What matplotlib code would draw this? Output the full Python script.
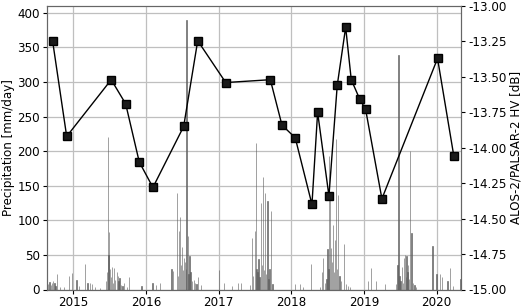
import matplotlib
matplotlib.use("Agg")
import matplotlib.pyplot as plt
import matplotlib.dates as mdates
from datetime import datetime, timedelta

# --- data (dates as decimal years) ---
sar_dates = [2014.716, 2014.909, 2015.522, 2015.721, 2015.908, 2016.096, 2016.518,
             2016.711, 2017.096, 2017.710, 2017.870, 2018.053, 2018.283, 2018.361,
             2018.517, 2018.631, 2018.747, 2018.824, 2018.939, 2019.022, 2019.246,
             2020.012, 2020.236]
sar_hv_db = [-13.25, -13.92, -13.52, -13.69, -14.10, -14.28, -13.85,
             -13.245, -13.54, -13.52, -13.84, -13.93, -14.40, -13.75,
             -14.34, -13.56, -13.15, -13.52, -13.655, -13.73, -14.36,
             -13.37, -14.06]

precip_dates = [
    2014.652, 2014.672, 2014.693, 2014.707, 2014.721, 2014.741, 2014.755, 2014.771,
    2014.817, 2014.872, 2014.941, 2014.986, 2015.046, 2015.078, 2015.161, 2015.195,
    2015.230, 2015.257, 2015.298, 2015.367,
    2015.450, 2015.463, 2015.473, 2015.484, 2015.491, 2015.505, 2015.518, 2015.532,
    2015.546, 2015.564, 2015.577, 2015.597, 2015.611, 2015.622, 2015.635, 2015.656,
    2015.677, 2015.697, 2015.738, 2015.770, 2015.940, 2016.092, 2016.137, 2016.192,
    2016.353, 2016.375,
    2016.422, 2016.440, 2016.454, 2016.467, 2016.481, 2016.499, 2016.509, 2016.522,
    2016.536, 2016.547, 2016.559, 2016.573, 2016.584, 2016.598, 2016.612, 2016.632,
    2016.656, 2016.674, 2016.694, 2016.715, 2016.756,
    2017.008, 2017.073, 2017.183, 2017.261, 2017.307,
    2017.430, 2017.458, 2017.472, 2017.495, 2017.509, 2017.520, 2017.534, 2017.548,
    2017.562, 2017.578, 2017.592, 2017.606, 2017.619, 2017.637, 2017.651, 2017.669,
    2017.685, 2017.698, 2017.723, 2017.740,
    2018.049, 2018.118, 2018.159, 2018.269, 2018.393, 2018.421, 2018.439, 2018.462,
    2018.483, 2018.499, 2018.510, 2018.521, 2018.535, 2018.544, 2018.558, 2018.576,
    2018.590, 2018.600, 2018.613, 2018.627, 2018.645, 2018.661, 2018.682, 2018.728,
    2018.751, 2018.778, 2018.806,
    2019.057, 2019.095, 2019.163, 2019.292,
    2019.439, 2019.459, 2019.476, 2019.487, 2019.501, 2019.521, 2019.535, 2019.549,
    2019.563, 2019.576, 2019.586, 2019.597, 2019.608, 2019.617, 2019.631, 2019.654,
    2019.672, 2019.695, 2019.713,
    2019.944, 2019.998, 2020.044, 2020.071, 2020.150, 2020.181, 2020.223, 2020.326,
]
precip_mm = [
    8, 11, 6, 10, 12, 9, 5, 22,
    3, 4, 19.5, 24, 14, 5, 37, 10,
    10, 8, 4, 2,
    12, 25, 220, 50, 83, 30, 18, 32,
    10, 31, 14, 25, 20, 12, 16, 7,
    5, 10, 4, 18, 5, 9, 6, 9,
    29, 27,
    139, 20, 85, 105, 35, 62, 28, 45,
    40, 30, 390, 77, 22, 48, 25, 12,
    14, 10, 8, 18, 6,
    28, 10, 5, 10, 10,
    6, 75, 20, 84, 212, 30, 25, 44,
    18, 125, 35, 163, 28, 140, 22, 128,
    15, 30, 113, 8,
    8, 8, 3, 37, 4, 25, 46, 10,
    15, 58, 30, 193, 134, 60, 40, 93,
    25, 72, 217, 30, 137, 20, 12, 66,
    8, 5, 3,
    13, 31, 13, 8,
    8, 35, 339, 20, 12, 32, 10, 45,
    50, 18, 49, 25, 35, 15, 200, 81,
    10, 6, 4,
    63, 22, 22, 18, 13, 31, 5, 15,
]

x_limits = [2014.638, 2020.334]
left_ylim = [0, 410]
right_ylim = [-15.0, -13.0]


def to_dt(d):
    y = int(d)
    start = datetime(y, 1, 1)
    days = (datetime(y + 1, 1, 1) - start).days
    return start + timedelta(days=(d - y) * days)


plt.rcParams['font.family'] = ['DejaVu Sans']
fig = plt.figure(figsize=(5.26, 3.08), dpi=100)
ax = fig.add_axes([47 / 526, 1 - 289.5 / 308, (461 - 47) / 526, (289.5 - 6) / 308])

px = [to_dt(d) for d in precip_dates]
ax.bar(px, precip_mm, width=1.5, color='0.45', edgecolor='0.35', linewidth=0.4, zorder=2)
ax.set_ylim(*left_ylim)
ax.set_yticks(range(0, 401, 50))
ax.set_ylabel('Precipitation [mm/day]', fontsize=8.6, labelpad=2)
ax.grid(True, color='0.75', linewidth=0.9, zorder=0)
ax.set_axisbelow(True)
ax.set_xlim(to_dt(x_limits[0]), to_dt(x_limits[1]))
ax.xaxis.set_major_locator(mdates.YearLocator())
ax.xaxis.set_major_formatter(mdates.DateFormatter('%Y'))
ax.tick_params(labelsize=8.6, length=3, pad=2)

ax2 = ax.twinx()
ax2.plot([to_dt(d) for d in sar_dates], sar_hv_db, color='black', linewidth=1.0,
         marker='s', markersize=5.5, markerfacecolor='#1a1a1a', markeredgecolor='black', zorder=3)
ax2.set_ylim(*right_ylim)
ax2.set_yticks([-15.0, -14.75, -14.5, -14.25, -14.0, -13.75, -13.5, -13.25, -13.0])
ax2.yaxis.set_major_formatter(matplotlib.ticker.FormatStrFormatter('%.2f'))
ax2.set_ylabel('ALOS-2/PALSAR-2 HV [dB]', fontsize=8.6, labelpad=2)
ax2.tick_params(labelsize=8.6, length=3, pad=2)

for a in (ax, ax2):
    for s in a.spines.values():
        s.set_color('0.4')

fig.savefig('out.png', dpi=100)
